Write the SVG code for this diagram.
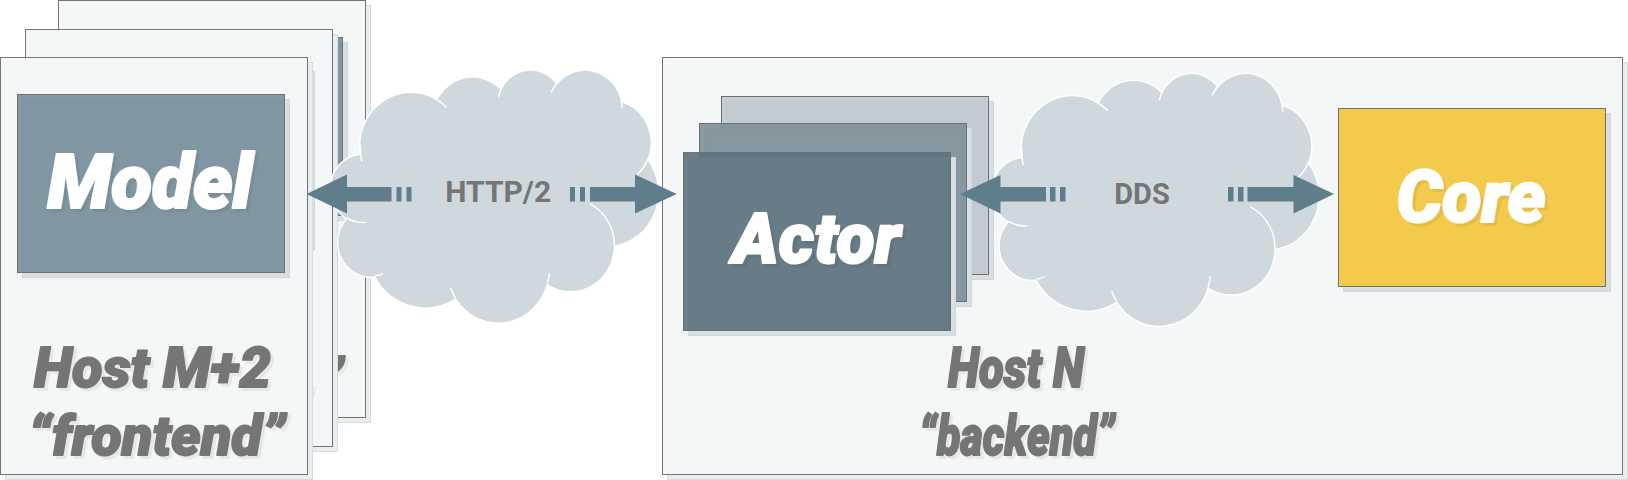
<svg xmlns="http://www.w3.org/2000/svg" width="1628" height="480" viewBox="0 0 1628 480">
<defs>
<style>
.host{fill:#f5f7f7;fill-opacity:0.9;stroke:#757575;stroke-width:1}
.hshadow{fill:#e9edef;stroke:#d6dde1;stroke-width:1}
.bshadow{fill:#d8dfe3;stroke:#cfd8dc;stroke-width:1}
.box{stroke:#707070;stroke-width:1}
.model{fill:#78909c;fill-opacity:0.92}
.a1{fill:#c0c9cf;fill-opacity:0.9}
.a2{fill:#7d8f98;fill-opacity:0.9}
.a3{fill:#5b717c;fill-opacity:0.9}
.core{fill:#f4c842;fill-opacity:0.95}
.lbl{font-family:Roboto,"Noto Sans",sans-serif;font-weight:900;font-style:italic;fill:#ffffff;stroke:#ffffff;stroke-width:2.2;stroke-linejoin:round;text-anchor:middle}
.hlbl{font-family:Roboto,"Noto Sans",sans-serif;font-weight:900;font-style:italic;fill:#757575;stroke:#757575;stroke-width:1.8;stroke-linejoin:round;font-size:56px;text-anchor:middle}
.cloud{fill:#cfd8dc;stroke:#ffffff;stroke-width:1.5}
.crease{fill:none;stroke:#ffffff;stroke-width:1.5}
.proto{font-family:Roboto,"Noto Sans",sans-serif;font-weight:700;fill:#757575;text-anchor:middle}
.arrow{fill:#607d8b}
</style>
<filter id="ts" x="-10%" y="-20%" width="130%" height="150%">
<feDropShadow dx="3" dy="3" stdDeviation="0.5" flood-color="#000000" flood-opacity="0.06"/>
</filter>
</defs>

<rect x="0" y="0" width="1628" height="480" fill="#ffffff"/>

<!-- Frontend host stack -->
<g id="host-m1" transform="translate(58.5,0.5)">
  <rect class="hshadow" x="5" y="5" width="307" height="417"/>
  <rect class="host" x="0" y="0" width="307" height="417"/>
  <rect class="bshadow" x="22" y="42" width="267" height="178"/>
  <rect class="box model" x="17" y="37" width="267" height="178"/>
  <text class="lbl" x="149.5" y="150" font-size="75" filter="url(#ts)">Model</text>
  <text class="hlbl" x="152" y="329.5" filter="url(#ts)">Host M+1</text>
  <text class="hlbl" x="156.5" y="397.5" filter="url(#ts)">“frontend”</text>
</g>
<g id="host-m" transform="translate(25.5,29.5)">
  <rect class="hshadow" x="5" y="5" width="307" height="417"/>
  <rect class="host" x="0" y="0" width="307" height="417"/>
  <rect class="bshadow" x="22" y="42" width="267" height="178"/>
  <rect class="box model" x="17" y="37" width="267" height="178"/>
  <text class="lbl" x="149.5" y="150" font-size="75" filter="url(#ts)">Model</text>
  <text class="hlbl" x="152" y="329.5" filter="url(#ts)">Host M</text>
  <text class="hlbl" x="156.5" y="397.5" filter="url(#ts)">“frontend”</text>
</g>
<g id="host-m2" transform="translate(0.5,57.5)">
  <rect class="hshadow" x="5" y="5" width="307" height="417"/>
  <rect class="host" x="0" y="0" width="307" height="417"/>
  <rect class="bshadow" x="22" y="42" width="267" height="178"/>
  <rect class="box model" x="17" y="37" width="267" height="178"/>
  <text class="lbl" x="149.5" y="150" font-size="75" filter="url(#ts)">Model</text>
  <text class="hlbl" x="152" y="329.5" filter="url(#ts)">Host M+2</text>
  <text class="hlbl" x="156.5" y="397.5" filter="url(#ts)">“frontend”</text>
</g>

<!-- HTTP/2 cloud -->
<g id="cloud-http" transform="translate(330.5,69.2) scale(0.0075926,0.0058565)">
  <path class="cloud" vector-effect="non-scaling-stroke" d="M3900 14370 A6753 9190 0 0 1 14005 5202 A5333 7267 0 0 1 22457 3435 A4365 5945 0 0 1 29835 2484 A4857 6595 0 0 1 38320 5579 A5333 7273 0 0 1 41820 15463 A6775 9220 0 0 1 37406 30205 A5785 7867 0 0 1 28557 36815 A6752 9215 0 0 1 16481 39265 A7720 10543 0 0 1 5804 35470 A4360 5918 0 0 1 2113 25549 A4345 5945 0 0 1 3864 14505 Z"/>
  <path class="crease" vector-effect="non-scaling-stroke" d="M4693 26177 A4345 5945 0 0 1 2159 25380 M6928 34899 A4360 5918 0 0 1 5820 35281 M16478 39090 A6752 9215 0 0 1 15810 37350 M28827 34751 A6752 9215 0 0 1 28560 36661 M34129 22954 A5785 7867 0 0 1 37380 30090 M41798 15354 A5333 7273 0 0 1 40351 18029 M38324 5426 A4857 6595 0 0 1 38400 6690 M29078 3952 A4857 6595 0 0 1 29820 2341 M22141 4720 A4365 5945 0 0 1 22500 3330 M14000 5192 A6753 9190 0 0 1 15303 6544 M4127 15789 A6753 9190 0 0 1 3962 12991"/>
</g>

<!-- Backend host -->
<g id="host-n">
  <rect class="hshadow" x="667.5" y="62.5" width="960" height="417"/>
  <rect class="host" x="662.5" y="57.5" width="960" height="417"/>
  <text class="hlbl" x="1016" y="387" textLength="136" lengthAdjust="spacingAndGlyphs" filter="url(#ts)">Host N</text>
  <text class="hlbl" x="1017" y="455" textLength="196" lengthAdjust="spacingAndGlyphs" filter="url(#ts)">“backend”</text>
</g>

<!-- DDS cloud -->
<g id="cloud-dds" transform="translate(992,72.5) scale(0.0075694,0.0058565)">
  <path class="cloud" vector-effect="non-scaling-stroke" d="M3900 14370 A6753 9190 0 0 1 14005 5202 A5333 7267 0 0 1 22457 3435 A4365 5945 0 0 1 29835 2484 A4857 6595 0 0 1 38320 5579 A5333 7273 0 0 1 41820 15463 A6775 9220 0 0 1 37406 30205 A5785 7867 0 0 1 28557 36815 A6752 9215 0 0 1 16481 39265 A7720 10543 0 0 1 5804 35470 A4360 5918 0 0 1 2113 25549 A4345 5945 0 0 1 3864 14505 Z"/>
  <path class="crease" vector-effect="non-scaling-stroke" d="M4693 26177 A4345 5945 0 0 1 2159 25380 M6928 34899 A4360 5918 0 0 1 5820 35281 M16478 39090 A6752 9215 0 0 1 15810 37350 M28827 34751 A6752 9215 0 0 1 28560 36661 M34129 22954 A5785 7867 0 0 1 37380 30090 M41798 15354 A5333 7273 0 0 1 40351 18029 M38324 5426 A4857 6595 0 0 1 38400 6690 M29078 3952 A4857 6595 0 0 1 29820 2341 M22141 4720 A4365 5945 0 0 1 22500 3330 M14000 5192 A6753 9190 0 0 1 15303 6544 M4127 15789 A6753 9190 0 0 1 3962 12991"/>
</g>

<!-- Actor stack -->
<g id="actor-3">
  <rect class="bshadow" x="726.5" y="101.5" width="267" height="178"/>
  <rect class="box a1" x="721.5" y="96.5" width="267" height="178"/>
  <text class="lbl" x="854.5" y="207" font-size="70" filter="url(#ts)">Actor</text>
</g>
<g id="actor-2">
  <rect class="bshadow" x="704.5" y="128.5" width="267" height="178"/>
  <rect class="box a2" x="699.5" y="123.5" width="267" height="178"/>
  <text class="lbl" x="832.5" y="234" font-size="70" filter="url(#ts)">Actor</text>
</g>
<g id="actor-1">
  <rect class="bshadow" x="688.5" y="157.5" width="267" height="178"/>
  <rect class="box a3" x="683.5" y="152.5" width="267" height="178"/>
  <text class="lbl" x="816.5" y="263" font-size="70" filter="url(#ts)">Actor</text>
</g>

<!-- Core -->
<g id="core">
  <rect class="bshadow" x="1343.5" y="113.5" width="267" height="178"/>
  <rect class="box core" x="1338.5" y="108.5" width="267" height="178"/>
  <text class="lbl" x="1471" y="222" font-size="72" filter="url(#ts)">Core</text>
</g>

<!-- Connectors -->
<g id="connectors">
  <g id="http-to-model" class="arrow">
    <path d="M306.5 194 L347 174.5 L347 213.5 Z"/>
    <rect x="346" y="187" width="45.5" height="14.5"/>
    <rect x="396.5" y="187" width="5" height="14.5"/>
    <rect x="406.5" y="187" width="5" height="14.5"/>
  </g>
  <g id="http-to-actor" class="arrow">
    <rect x="570" y="187" width="5" height="14.5"/>
    <rect x="580" y="187" width="5" height="14.5"/>
    <rect x="590" y="187" width="46" height="14.5"/>
    <path d="M676.7 194 L635 174.5 L635 213.5 Z"/>
  </g>
  <g id="dds-to-actor" class="arrow">
    <path d="M960 194 L1000.5 175 L1000.5 213.5 Z"/>
    <rect x="999.5" y="187" width="46.5" height="14.5"/>
    <rect x="1050" y="187" width="5.5" height="14.5"/>
    <rect x="1060" y="187" width="5.5" height="14.5"/>
  </g>
  <g id="dds-to-core" class="arrow">
    <rect x="1228" y="187" width="5.5" height="14.5"/>
    <rect x="1238" y="187" width="5.5" height="14.5"/>
    <rect x="1247.5" y="187" width="46.5" height="14.5"/>
    <path d="M1334 194 L1293.5 175 L1293.5 213.5 Z"/>
  </g>
  <text class="proto" x="498.3" y="201.7" font-size="30">HTTP/2</text>
  <text class="proto" x="1142" y="204" font-size="29">DDS</text>
</g>
</svg>
